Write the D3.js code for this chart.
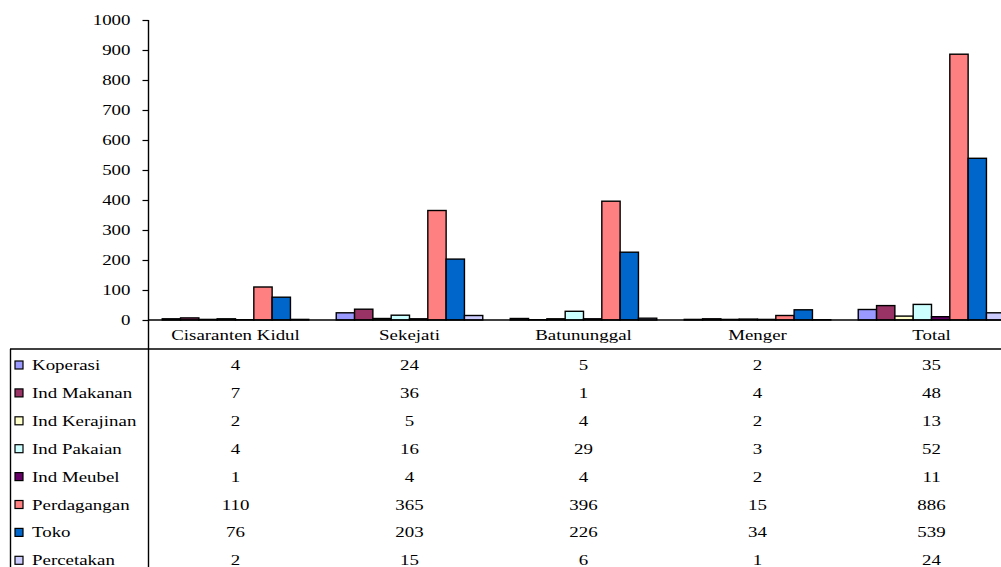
<!DOCTYPE html>
<html>
<head>
<meta charset="utf-8">
<script src="https://cdn.jsdelivr.net/npm/d3@7"></script>
<style>
  html, body { margin: 0; padding: 0; background: #fff; }
  svg { display: block; }
  text { font-family: "Liberation Serif", "Times New Roman", serif; font-size: 14px; fill: #000; }
</style>
</head>
<body>
<svg id="chart" width="1001" height="567"></svg>
<script>
// Kelurahan (columns) and business types (series)
const categories = ["Cisaranten Kidul", "Sekejati", "Batununggal", "Menger", "Total"];
const seriesNames = ["Koperasi", "Ind Makanan", "Ind Kerajinan", "Ind Pakaian", "Ind Meubel", "Perdagangan", "Toko", "Percetakan"];
const seriesColors = ["#9999FF", "#993366", "#FFFFCC", "#CCFFFF", "#660066", "#FF8080", "#0066CC", "#CCCCFF"];

// Counts per series, one value per category
const koperasi     = [4, 24, 5, 2, 35];
const indMakanan   = [7, 36, 1, 4, 48];
const indKerajinan = [2, 5, 4, 2, 13];
const indPakaian   = [4, 16, 29, 3, 52];
const indMeubel    = [1, 4, 4, 2, 11];
const perdagangan  = [110, 365, 396, 15, 886];
const toko         = [76, 203, 226, 34, 539];
const percetakan   = [2, 15, 6, 1, 24];

const yTicks = [0, 100, 200, 300, 400, 500, 600, 700, 800, 900, 1000];

const seriesValues = [koperasi, indMakanan, indKerajinan, indPakaian, indMeubel, perdagangan, toko, percetakan];

const svg = d3.select("#chart");
const W = 1001, H = 567;
const TX = 1.35; // horizontal stretch of the text glyphs

const plotLeft = 148.5, plotTop = 20, plotBottom = 320;
const groupW = 174;
const plotRight = plotLeft + groupW * categories.length;

const y = d3.scaleLinear().domain([0, 1000]).range([plotBottom, plotTop]);
const x0 = d3.scaleBand().domain(categories).range([plotLeft, plotRight]).padding(0);
const barW = groupW / (seriesNames.length + 1.5);
const x1 = d3.scaleBand().domain(seriesNames)
  .range([barW * 0.75, groupW - barW * 0.75]).padding(0);

// helper: text with horizontally stretched glyphs
function label(g, str, x, yPos, anchor) {
  return g.append("text")
    .attr("transform", `translate(${x},${yPos}) scale(${TX},1)`)
    .attr("text-anchor", anchor || "middle")
    .text(str);
}

// Bars
const groups = svg.append("g").selectAll("g")
  .data(categories)
  .join("g")
  .attr("transform", d => `translate(${x0(d)},0)`);

groups.selectAll("rect")
  .data((c, ci) => seriesNames.map((s, si) => ({ s, si, v: seriesValues[si][ci] })))
  .join("rect")
  .attr("x", d => x1(d.s))
  .attr("y", d => y(d.v))
  .attr("width", x1.bandwidth())
  .attr("height", d => y(0) - y(d.v))
  .attr("fill", d => seriesColors[d.si])
  .attr("stroke", "#000")
  .attr("stroke-width", 1.4);

// Y axis
const yAxis = svg.append("g")
  .attr("transform", `translate(${plotLeft},0)`)
  .call(d3.axisLeft(y).tickValues(yTicks).tickSize(6).tickPadding(0).tickFormat(d3.format("d")));
yAxis.select(".domain").remove();
yAxis.selectAll(".tick line").attr("stroke", "#000").attr("stroke-width", 1.2);
yAxis.selectAll(".tick text")
  .attr("x", null)
  .attr("dy", "0.34em")
  .attr("transform", `translate(-18,0) scale(${TX},1)`)
  .attr("text-anchor", "end")
  .style("font-family", "'Liberation Serif', serif")
  .style("font-size", "14px");

// Table below the plot
const headerLineY = 349;
const rowStep = 27.9;
const firstRowBase = 370;

const lines = svg.append("g").attr("stroke", "#000").attr("stroke-width", 1.4).attr("fill", "none");
lines.append("line").attr("x1", plotLeft).attr("x2", W).attr("y1", plotBottom).attr("y2", plotBottom);
lines.append("line").attr("x1", 10).attr("x2", W).attr("y1", headerLineY).attr("y2", headerLineY);
lines.append("line").attr("x1", plotLeft).attr("x2", plotLeft).attr("y1", plotTop).attr("y2", H);
lines.append("line").attr("x1", 10.5).attr("x2", 10.5).attr("y1", headerLineY).attr("y2", H);

const table = svg.append("g");
categories.forEach(c => label(table, c, x0(c) + groupW / 2, 340));

seriesNames.forEach((s, si) => {
  const base = firstRowBase + si * rowStep;
  table.append("rect")
    .attr("x", 15).attr("y", base - 9)
    .attr("width", 8).attr("height", 8)
    .attr("fill", seriesColors[si])
    .attr("stroke", "#000").attr("stroke-width", 1.2);
  label(table, s, 32, base, "start");
  categories.forEach((c, ci) => {
    label(table, String(seriesValues[si][ci]), x0(c) + groupW / 2, base);
  });
});
</script>
</body>
</html>
